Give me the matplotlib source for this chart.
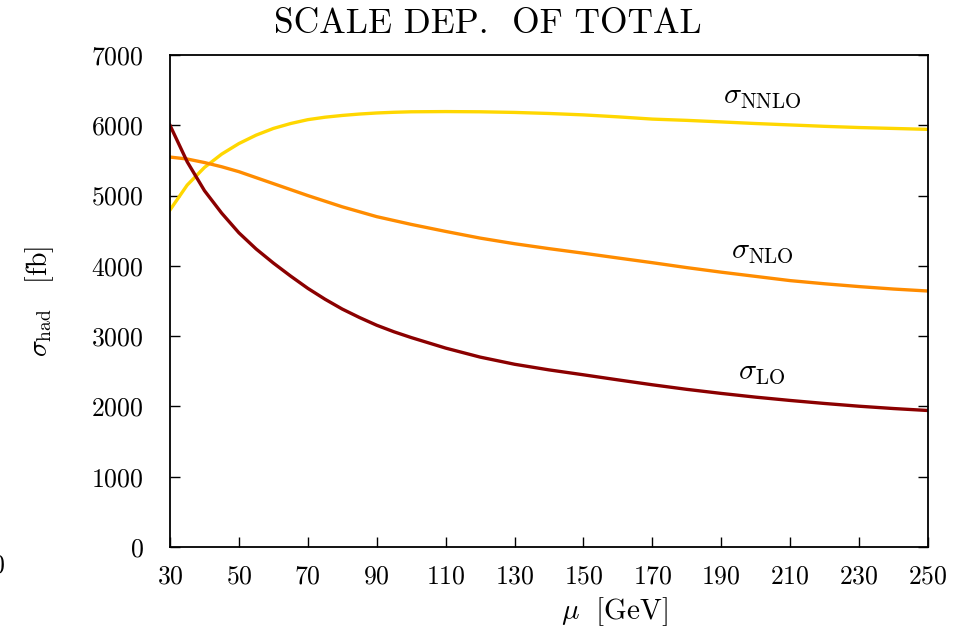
import matplotlib
matplotlib.use("Agg")
import matplotlib.pyplot as plt

plt.rcParams["font.family"] = "cmr10"
plt.rcParams["mathtext.fontset"] = "cm"
plt.rcParams["axes.formatter.use_mathtext"] = True

# renormalisation scale mu [GeV]
mu = [30, 35, 40, 45, 50, 55, 60, 65, 70, 75, 80, 85, 90, 95, 100,
      110, 120, 130, 140, 150, 160, 170, 180, 190, 200, 210, 220, 230, 240, 250]

# hadronic cross sections [fb]
sigma_lo = [6000, 5480, 5070, 4750, 4470, 4240, 4040, 3855, 3680, 3525, 3385,
            3265, 3155, 3062, 2980, 2830, 2702, 2600, 2520, 2450, 2378, 2308,
            2243, 2185, 2132, 2085, 2042, 2003, 1970, 1942]
sigma_nlo = [5548, 5520, 5470, 5410, 5340, 5255, 5170, 5085, 5000, 4920, 4840,
             4770, 4700, 4645, 4590, 4490, 4395, 4315, 4245, 4180, 4112, 4045,
             3975, 3910, 3850, 3790, 3745, 3705, 3670, 3642]
sigma_nnlo = [4795, 5150, 5400, 5590, 5740, 5860, 5955, 6025, 6080, 6115, 6140,
              6160, 6175, 6185, 6192, 6195, 6192, 6183, 6168, 6148, 6120, 6088,
              6070, 6048, 6025, 6005, 5985, 5968, 5955, 5942]

xticks = [30, 50, 70, 90, 110, 130, 150, 170, 190, 210, 230, 250]
yticks = [0, 1000, 2000, 3000, 4000, 5000, 6000, 7000]

fig = plt.figure(figsize=(9.76, 6.33), dpi=100)
ax = fig.add_axes([170/976, 1-547/633, 758/976, 492/633])

ax.plot(mu, sigma_nnlo, color="#FFD700", lw=2.4, solid_joinstyle="round")
ax.plot(mu, sigma_nlo, color="#FF8C00", lw=2.4, solid_joinstyle="round")
ax.plot(mu, sigma_lo, color="#8B0000", lw=2.4, solid_joinstyle="round")

ax.set_xlim(30, 250)
ax.set_ylim(0, 7000)
ax.set_xticks(xticks)
ax.set_yticks(yticks)
ax.tick_params(axis="both", direction="in", length=7, width=1.0,
               labelsize=18.5, top=False, right=True)
ax.tick_params(axis="y", pad=19)
ax.tick_params(axis="x", pad=13)
for s in ax.spines.values():
    s.set_linewidth(1.3)

ax.text(201.8, 6416, r"$\sigma_{\mathrm{NNLO}}$", fontsize=21.5, ha="center", va="center")
ax.text(201.8, 4211, r"$\sigma_{\mathrm{NLO}}$", fontsize=21.5, ha="center", va="center")
ax.text(201.8, 2490, r"$\sigma_{\mathrm{LO}}$", fontsize=21.5, ha="center", va="center")

ax.text(0.4195, 1.063, "SCALE DEP.  OF TOTAL", transform=ax.transAxes,
        fontsize=25.5, ha="center", va="center")
ax.text(0.587, -0.132, r"$\mu\ \ [\mathrm{GeV}]$", transform=ax.transAxes,
        fontsize=21, ha="center", va="center")
ax.text(-0.1715, 0.5, r"$\sigma_{\mathrm{had}}\ \ \ [\mathrm{fb}]$", transform=ax.transAxes,
        fontsize=20, ha="center", va="center", rotation=90)

fig.text(5/976, 1-566/633, "0", fontsize=18.5, ha="right", va="center")

fig.savefig("out.png", dpi=100)
